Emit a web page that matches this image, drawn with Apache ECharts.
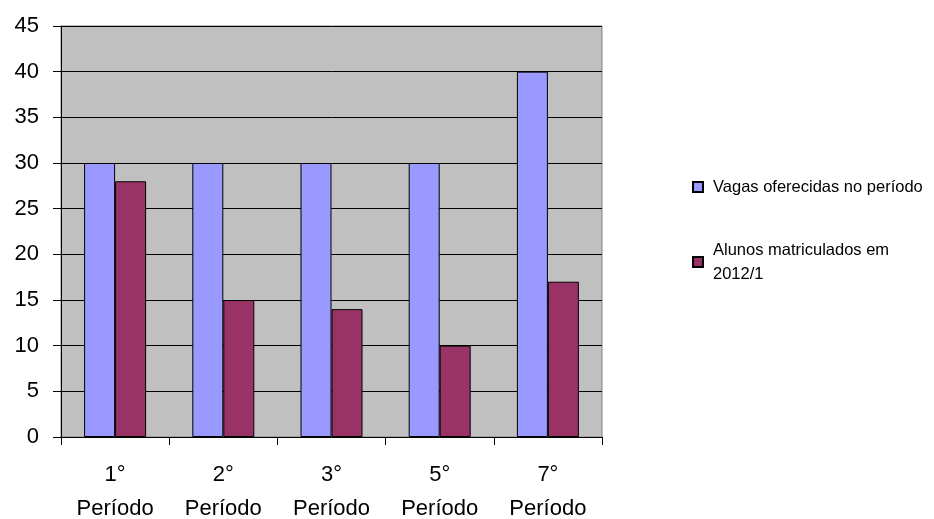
<!DOCTYPE html>
<html>
<head>
<meta charset="utf-8">
<script src="https://cdn.jsdelivr.net/npm/echarts@6/dist/echarts.min.js"></script>
<style>
  html, body { margin: 0; padding: 0; background: #fff; }
  #chart { width: 934px; height: 519px; }
</style>
</head>
<body>
<div id="chart"></div>
<script>
// Categories (course periods) and the two series plotted per period
const periods = ['1°\nPeríodo', '2°\nPeríodo', '3°\nPeríodo', '5°\nPeríodo', '7°\nPeríodo'];
const vagas = [30, 30, 30, 30, 40];
const alunos = [28, 15, 14, 10, 17];
const seriesNames = ['Vagas oferecidas no período', 'Alunos matriculados em 2012/1'];
const yTicks = { min: 0, max: 45, interval: 5 };

const font = 'Liberation Sans, Arial, sans-serif';
const chart = echarts.init(document.getElementById('chart'), null, { renderer: 'canvas' });

chart.setOption({
  animation: false,
  backgroundColor: '#ffffff',
  grid: {
    left: 61, right: 332, top: 26, bottom: 82,
    outerBoundsMode: 'none',
    show: true,
    backgroundColor: '#C0C0C0',
    borderColor: '#808080',
    borderWidth: 1
  },
  legend: {
    orient: 'vertical',
    left: 687,
    top: 170,
    itemWidth: 10,
    itemHeight: 10,
    itemGap: 39,
    icon: 'rect',
    data: seriesNames,
    textStyle: {
      fontFamily: font, fontSize: 16.5, color: '#000', lineHeight: 24,
      padding: [0, 0, 0, 5]
    },
    formatter: function (name) {
      return name === seriesNames[1] ? 'Alunos matriculados em\n2012/1' : name;
    }
  },
  xAxis: {
    type: 'category',
    data: periods,
    axisLine: { lineStyle: { color: '#000', width: 1 } },
    axisTick: { show: true, alignWithLabel: false, length: 8, lineStyle: { color: '#000' } },
    axisLabel: {
      color: '#000', fontFamily: font, fontSize: 22, lineHeight: 34, margin: 21
    },
    splitLine: { show: false }
  },
  yAxis: {
    type: 'value',
    min: yTicks.min, max: yTicks.max, interval: yTicks.interval,
    axisLine: { show: true, lineStyle: { color: '#000', width: 1 } },
    axisTick: { show: true, length: 8, lineStyle: { color: '#000' } },
    axisLabel: { color: '#000', fontFamily: font, fontSize: 22, margin: 22 },
    splitLine: { show: true, lineStyle: { color: '#000', width: 1 } }
  },
  series: [
    {
      name: seriesNames[0],
      type: 'bar',
      data: vagas,
      barWidth: 31,
      barGap: '0%',
      itemStyle: { color: '#9999FF', borderColor: '#000', borderWidth: 1 }
    },
    {
      name: seriesNames[1],
      type: 'bar',
      data: alunos,
      barWidth: 31,
      barGap: '0%',
      itemStyle: { color: '#993366', borderColor: '#000', borderWidth: 1 }
    }
  ]
});
</script>
</body>
</html>
